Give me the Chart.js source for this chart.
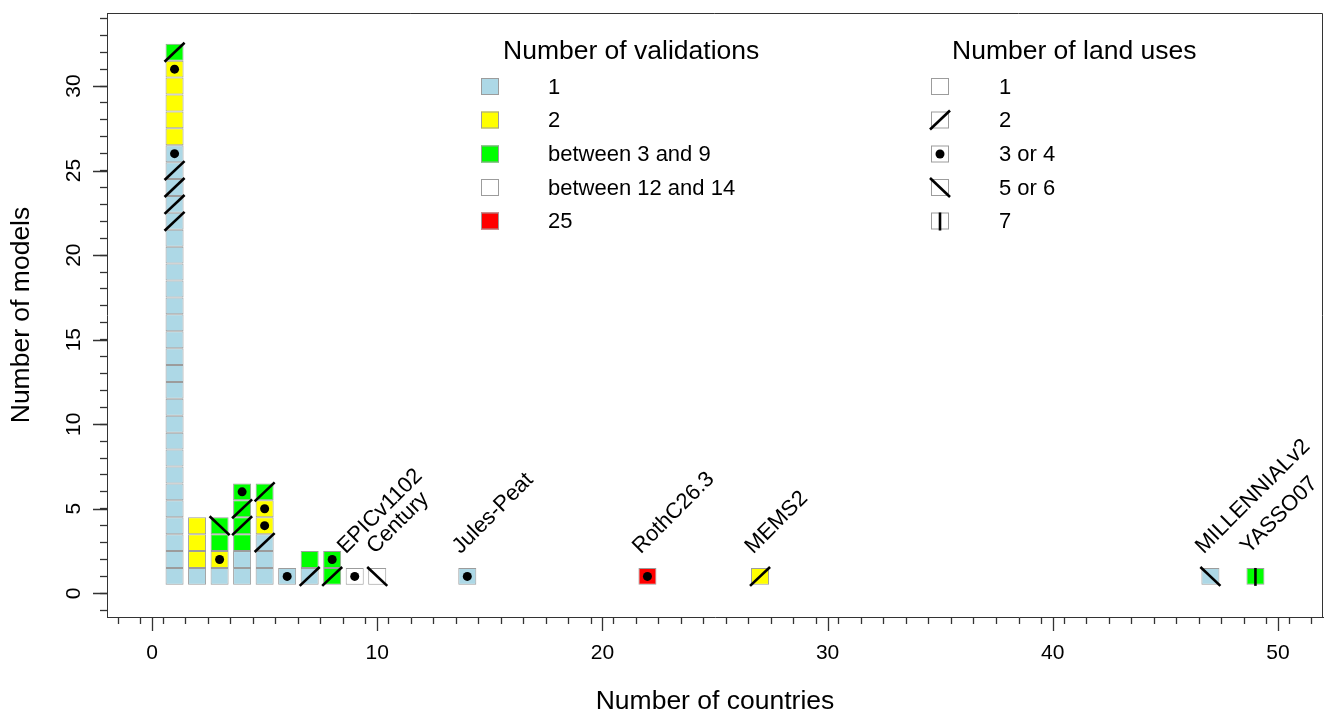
<!DOCTYPE html>
<html>
<head>
<meta charset="utf-8">
<script src="https://cdn.jsdelivr.net/npm/chart.js@4.4.0/dist/chart.umd.min.js"></script>
<style>
html, body { margin: 0; padding: 0; background: #fff; }
#wrap { width: 1326px; height: 713px; }
</style>
</head>
<body>
<div id="wrap"><canvas id="modelChart"></canvas></div>
<script>
// one column per number of countries, models listed bottom to top
const countries = [1, 2, 3, 4, 5, 6, 7, 8, 9, 10, 14, 22, 27, 47, 49];
// number-of-validations class of each model (1..5)
const validationStacks = [
    '11111111111111111111111111222223',
    '1222', '1233', '113333', '111223',
    '1', '13', '33', '4', '4', '1', '5', '2', '1', '3'
];
// number-of-land-uses class of each model (1..5)
const landUseStacks = [
    '11111111111111111111122223111132',
    '1111', '1314', '111223', '112332',
    '3', '21', '23', '3', '4', '3', '3', '2', '4', '5'
];

const validationLabels = ['1', '2', 'between 3 and 9', 'between 12 and 14', '25'];
const validationColors = ['#ADD8E6', '#FFFF00', '#00FF00', '#FFFFFF', '#FF0000'];
const landUseLabels = ['1', '2', '3 or 4', '5 or 6', '7'];

const namedModels = ['EPICv1102', 'Century', 'Jules-Peat', 'RothC26.3', 'MEMS2', 'MILLENNIALv2', 'YASSO07'];
const namedCountries = [9, 10, 14, 22, 27, 47, 49];

const xMajorTicks = [0, 10, 20, 30, 40, 50];
const yMajorTicks = [0, 5, 10, 15, 20, 25, 30];

const FONT = "'Liberation Sans', Arial, Helvetica, sans-serif";
const EDGE = '#9c9c9c';
const AXIS = '#333333';
// small sideways nudge (in axis units) so the two close names don't touch
const NAME_NUDGE = { EPICv1102: -0.1, Century: 0.2 };

Chart.defaults.font.family = FONT;
Chart.defaults.color = '#000';

const datasets = validationLabels.map((label, k) => ({
    label: label,
    backgroundColor: validationColors[k],
    borderColor: EDGE,
    borderWidth: 1,
    borderSkipped: false,
    grouped: false,
    categoryPercentage: 1,
    barPercentage: 0.8,
    data: []
}));

countries.forEach((c, i) => {
    const v = validationStacks[i];
    const lu = landUseStacks[i];
    for (let j = 0; j < v.length; j++) {
        datasets[+v[j] - 1].data.push({ x: c, y: [j + 0.5, j + 1.5], landUse: +lu[j] });
    }
});

function drawLandUse(ctx, code, l, t, r, b) {
    const cx = (l + r) / 2, cy = (t + b) / 2;
    ctx.beginPath();
    if (code === 2) {
        ctx.moveTo(l - 1, b + 1); ctx.lineTo(r + 1, t - 1); ctx.stroke();
    } else if (code === 3) {
        ctx.arc(cx, cy, 4.5, 0, Math.PI * 2); ctx.fill();
    } else if (code === 4) {
        ctx.moveTo(l - 1, t - 1); ctx.lineTo(r + 1, b + 1); ctx.stroke();
    } else if (code === 5) {
        ctx.moveTo(cx, t); ctx.lineTo(cx, b + 1); ctx.stroke();
    }
}

function legendBox(ctx, cx, cy, fill) {
    ctx.fillStyle = fill;
    ctx.fillRect(cx - 9, cy - 8.5, 18, 17);
    ctx.strokeStyle = EDGE;
    ctx.lineWidth = 1;
    ctx.strokeRect(cx - 8.5, cy - 8, 17, 16);
}

// no extra room for the (empty) end tick labels
function fixPadding(s) {
    s.paddingTop = 0;
    s.paddingBottom = 0;
    s.paddingLeft = 0;
    s.paddingRight = 0;
}

const decorations = {
    id: 'decorations',
    afterDatasetsDraw(chart) {
        const ctx = chart.ctx;
        ctx.save();
        ctx.strokeStyle = '#000';
        ctx.fillStyle = '#000';
        ctx.lineWidth = 2.6;
        chart.data.datasets.forEach((ds, d) => {
            chart.getDatasetMeta(d).data.forEach((el, j) => {
                const top = Math.min(el.y, el.base), bottom = Math.max(el.y, el.base);
                drawLandUse(ctx, ds.data[j].landUse, el.x - el.width / 2, top, el.x + el.width / 2, bottom);
            });
        });
        ctx.restore();
    },
    afterDraw(chart) {
        const ctx = chart.ctx;
        const area = chart.chartArea;
        const xs = chart.scales.x, ys = chart.scales.y;
        ctx.save();

        // rest of the box and the longer major ticks
        ctx.strokeStyle = AXIS;
        ctx.lineWidth = 1;
        ctx.beginPath();
        ctx.moveTo(area.left, Math.round(area.top) + 0.5);
        ctx.lineTo(Math.round(area.right) - 0.5, Math.round(area.top) + 0.5);
        ctx.lineTo(Math.round(area.right) - 0.5, area.bottom);
        ctx.stroke();
        ctx.lineWidth = 1.3;
        ctx.beginPath();
        xMajorTicks.forEach(v => {
            const px = Math.round(xs.getPixelForValue(v)) + 0.5;
            ctx.moveTo(px, area.bottom); ctx.lineTo(px, area.bottom + 14);
        });
        yMajorTicks.forEach(v => {
            const py = Math.round(ys.getPixelForValue(v)) + 0.5;
            ctx.moveTo(area.left - 14, py); ctx.lineTo(area.left, py);
        });
        ctx.stroke();

        // model names
        ctx.fillStyle = '#000';
        ctx.font = '22px ' + FONT;
        ctx.textAlign = 'left';
        ctx.textBaseline = 'alphabetic';
        namedModels.forEach((name, i) => {
            const px = xs.getPixelForValue(namedCountries[i] - 0.3 + (NAME_NUDGE[name] || 0));
            const py = ys.getPixelForValue(2.3);
            ctx.save();
            ctx.translate(px, py);
            ctx.rotate(-Math.PI / 4);
            ctx.fillText(name, 0, 0);
            ctx.restore();
        });

        // legends
        const rows = [86.5, 120, 154, 187.5, 221];
        ctx.textBaseline = 'middle';
        ctx.font = '26.5px ' + FONT;
        ctx.fillStyle = '#000';
        ctx.fillText('Number of validations', 503, 52);
        ctx.fillText('Number of land uses', 952, 52);
        ctx.font = '22px ' + FONT;
        validationLabels.forEach((lab, k) => {
            legendBox(ctx, 490, rows[k], validationColors[k]);
            ctx.fillStyle = '#000';
            ctx.fillText(lab, 548, rows[k] + 1);
        });
        landUseLabels.forEach((lab, k) => {
            legendBox(ctx, 940, rows[k], '#FFFFFF');
            ctx.strokeStyle = '#000';
            ctx.fillStyle = '#000';
            ctx.lineWidth = 2.6;
            drawLandUse(ctx, k + 1, 931, rows[k] - 8.5, 949, rows[k] + 8.5);
            ctx.fillText(lab, 999, rows[k] + 1);
        });
        ctx.restore();
    }
};

new Chart(document.getElementById('modelChart'), {
    type: 'bar',
    data: { datasets: datasets },
    options: {
        responsive: true,
        maintainAspectRatio: false,
        animation: false,
        layout: { padding: { left: 0, right: 3, top: 13, bottom: 0 } },
        plugins: { legend: { display: false }, tooltip: { enabled: false } },
        scales: {
            x: {
                type: 'linear',
                offset: false,
                min: -2,
                max: 52,
                afterFit: s => { s.height = 96; fixPadding(s); },
                grid: { drawOnChartArea: false, tickLength: 7, tickColor: AXIS, tickWidth: 1.3 },
                border: { display: true, color: AXIS, width: 1 },
                ticks: {
                    stepSize: 1,
                    autoSkip: false,
                    maxRotation: 0,
                    maxTicksLimit: 200,
                    padding: 17,
                    font: { size: 21 },
                    color: '#000',
                    callback: v => (v % 10 === 0 ? String(v) : '')
                },
                title: { display: true, text: 'Number of countries', font: { size: 26.5 }, color: '#000', padding: { top: 0, bottom: -5 } }
            },
            y: {
                type: 'linear',
                min: -1.4,
                max: 34.32,
                afterFit: s => { s.width = 107; fixPadding(s); },
                grid: { drawOnChartArea: false, tickLength: 7, tickColor: AXIS, tickWidth: 1.3 },
                border: { display: true, color: AXIS, width: 1 },
                ticks: {
                    stepSize: 1,
                    includeBounds: false,
                    autoSkip: false,
                    maxTicksLimit: 200,
                    minRotation: 90,
                    maxRotation: 90,
                    crossAlign: 'center',
                    padding: 14,
                    font: { size: 21 },
                    color: '#000',
                    callback: v => (v % 5 === 0 ? String(v) : '')
                },
                title: { display: true, text: 'Number of models', font: { size: 26.5 }, color: '#000', padding: { top: 6, bottom: 0 } }
            }
        }
    },
    plugins: [decorations]
});
</script>
</body>
</html>
